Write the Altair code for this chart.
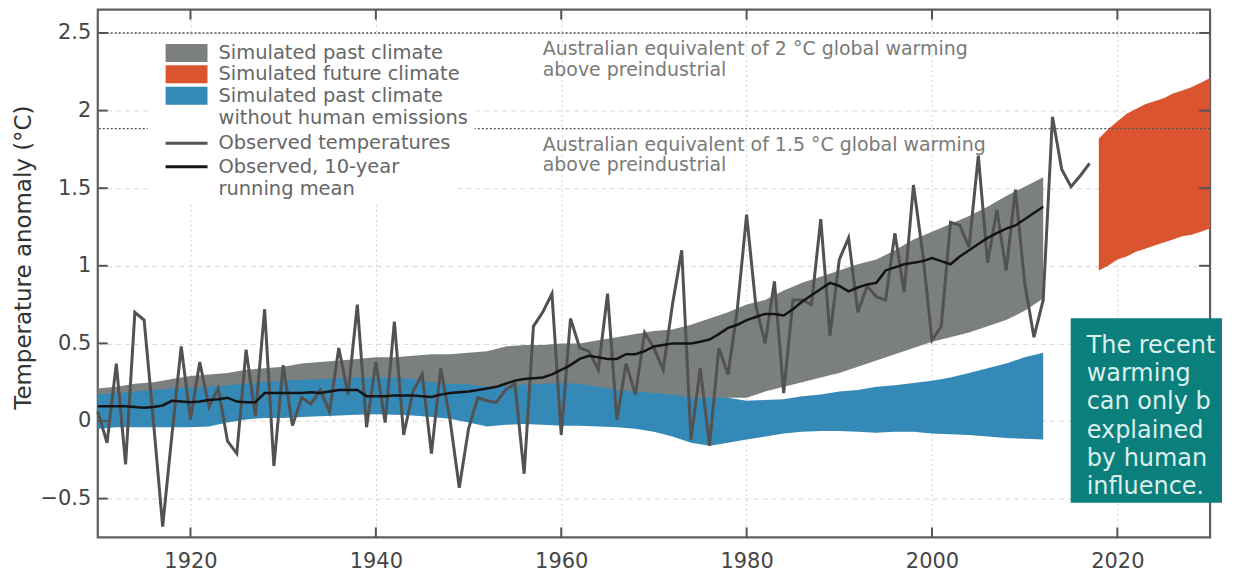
import altair as alt
import pandas as pd

FONT = "DejaVu Sans"

# ---------------- data ----------------
obs_years = list(range(1910, 2018))
obs_vals = [0.06, -0.14, 0.37, -0.28, 0.70, 0.65, 0.00, -0.68, -0.09, 0.48,
            0.01, 0.38, 0.09, 0.21, -0.13, -0.21, 0.46, 0.03, 0.72, -0.29,
            0.36, -0.03, 0.15, 0.11, 0.20, 0.06, 0.47, 0.17, 0.75, -0.04,
            0.38, -0.01, 0.64, -0.09, 0.19, 0.30, -0.21, 0.34, 0.01, -0.43,
            -0.05, 0.15, 0.13, 0.12, 0.20, 0.24, -0.34, 0.61, 0.70, 0.82,
            -0.09, 0.66, 0.47, 0.45, 0.33, 0.82, 0.01, 0.37, 0.17, 0.57,
            0.47, 0.33, 0.75, 1.10, -0.12, 0.34, -0.16, 0.47, 0.30, 0.72,
            1.33, 0.74, 0.50, 0.90, 0.18, 0.78, 0.78, 0.75, 1.30, 0.55,
            1.04, 1.18, 0.70, 0.87, 0.80, 0.78, 1.21, 0.83, 1.52, 1.08,
            0.52, 0.61, 1.28, 1.26, 1.12, 1.71, 1.02, 1.36, 0.97, 1.49,
            0.89, 0.54, 0.78, 1.96, 1.62, 1.51, 1.58, 1.66]

mean_years = list(range(1910, 2013))
mean_vals = [0.095, 0.095, 0.095, 0.095, 0.09, 0.085, 0.09, 0.10, 0.13, 0.125,
             0.12, 0.125, 0.135, 0.14, 0.15, 0.125, 0.12, 0.12, 0.18, 0.18,
             0.18, 0.18, 0.18, 0.185, 0.18, 0.19, 0.20, 0.20, 0.20, 0.16,
             0.16, 0.16, 0.165, 0.165, 0.165, 0.16, 0.155, 0.17, 0.18, 0.185,
             0.19, 0.20, 0.21, 0.22, 0.24, 0.26, 0.27, 0.275, 0.28, 0.30,
             0.33, 0.36, 0.40, 0.42, 0.41, 0.40, 0.40, 0.43, 0.43, 0.45,
             0.48, 0.49, 0.50, 0.50, 0.50, 0.51, 0.525, 0.56, 0.60, 0.62,
             0.65, 0.67, 0.69, 0.69, 0.68, 0.72, 0.77, 0.81, 0.85, 0.89,
             0.87, 0.835, 0.86, 0.88, 0.89, 0.97, 0.99, 1.01, 1.02, 1.03,
             1.05, 1.03, 1.01, 1.06, 1.10, 1.14, 1.18, 1.21, 1.24, 1.26,
             1.30, 1.34, 1.38]

band_years = list(range(1910, 2013, 2))
gray_hi = [0.21, 0.22, 0.24, 0.25, 0.27, 0.29, 0.30, 0.31, 0.33, 0.34,
           0.35, 0.37, 0.38, 0.39, 0.40, 0.41, 0.41, 0.42, 0.43, 0.43,
           0.44, 0.45, 0.48, 0.49, 0.49, 0.50, 0.50, 0.52, 0.54, 0.56,
           0.58, 0.59, 0.62, 0.66, 0.70, 0.75, 0.78, 0.84, 0.89, 0.93,
           0.97, 1.01, 1.04, 1.10, 1.17, 1.22, 1.27, 1.32, 1.38, 1.45,
           1.51, 1.57]
gray_lo = [0.05, 0.06, 0.07, 0.08, 0.09, 0.10, 0.10, 0.11, 0.12, 0.13,
           0.13, 0.14, 0.15, 0.15, 0.16, 0.16, 0.16, 0.15, 0.14, 0.13,
           0.12, 0.12, 0.12, 0.13, 0.13, 0.13, 0.13, 0.12, 0.12, 0.12,
           0.12, 0.13, 0.14, 0.14, 0.15, 0.15, 0.19, 0.22, 0.25, 0.28,
           0.31, 0.35, 0.39, 0.43, 0.47, 0.51, 0.54, 0.57, 0.61, 0.65,
           0.71, 0.79]
blue_hi = [0.17, 0.18, 0.19, 0.20, 0.21, 0.215, 0.22, 0.23, 0.24, 0.25,
           0.26, 0.265, 0.27, 0.275, 0.28, 0.28, 0.28, 0.27, 0.25, 0.24,
           0.235, 0.22, 0.225, 0.235, 0.24, 0.245, 0.24, 0.22, 0.20, 0.19,
           0.18, 0.17, 0.15, 0.15, 0.15, 0.13, 0.135, 0.14, 0.16, 0.17,
           0.19, 0.20, 0.22, 0.23, 0.245, 0.26, 0.28, 0.31, 0.34, 0.37,
           0.41, 0.44]
blue_lo = [-0.05, -0.04, -0.04, -0.04, -0.04, -0.04, -0.035, -0.01, 0.01, 0.02,
           0.02, 0.025, 0.03, 0.035, 0.04, 0.043, 0.04, 0.035, 0.025, 0.015,
           -0.01, -0.035, -0.025, -0.02, -0.025, -0.03, -0.03, -0.035, -0.04, -0.05,
           -0.07, -0.10, -0.14, -0.16, -0.14, -0.12, -0.10, -0.08, -0.07, -0.065,
           -0.065, -0.07, -0.075, -0.07, -0.07, -0.08, -0.085, -0.09, -0.10, -0.11,
           -0.115, -0.12]

fut_years = list(range(2018, 2031))
fut_hi = [1.82, 1.88, 1.93, 1.98, 2.01, 2.04, 2.06, 2.08, 2.11, 2.13, 2.15, 2.18, 2.21]
fut_lo = [0.97, 1.00, 1.04, 1.06, 1.09, 1.11, 1.13, 1.15, 1.17, 1.19, 1.20, 1.22, 1.24]

band_names = ["Simulated past climate", "Simulated future climate",
              "Simulated past climate|without human emissions"]
band_colors = ["#7b807f", "#d9542f", "#3489b6"]
line_names = ["Observed temperatures", "Observed, 10-year|running mean"]
line_colors = ["#525252", "#141414"]

threshold_vals = [2.5, 1.884]
threshold_texts = ["Australian equivalent of 2 °C global warming\nabove preindustrial",
                   "Australian equivalent of 1.5 °C global warming\nabove preindustrial"]
threshold_text_year = [1958, 1958]

x_tick_years = [1920, 1940, 1960, 1980, 2000, 2020]
y_tick_vals = [-0.5, 0, 0.5, 1, 1.5, 2, 2.5]

box_x = [2014.97, 2031.29]
box_y = [0.662, -0.527]
box_text_pos = [2016.69, 0.559]
box_text = "The recent\nwarming\ncan only be\nexplained\nby human\ninfluence."

# ---------------- chart ----------------
W, H = 1115, 529
xs = alt.Scale(domain=[1910, 2030], nice=False, zero=False)
ys = alt.Scale(domain=[-0.75, 2.65], nice=False, zero=False)

gray_df = pd.DataFrame({"year": band_years, "lo": gray_lo, "hi": gray_hi, "band": band_names[0]})
blue_df = pd.DataFrame({"year": band_years, "lo": blue_lo, "hi": blue_hi, "band": band_names[2]})
fut_df = pd.DataFrame({"year": fut_years, "lo": fut_lo, "hi": fut_hi, "band": band_names[1]})
obs_df = pd.DataFrame({"year": obs_years, "v": obs_vals, "series": line_names[0]})
mean_df = pd.DataFrame({"year": mean_years, "v": mean_vals, "series": line_names[1]})
thr_df = pd.DataFrame({"v": threshold_vals, "t": threshold_texts, "year": threshold_text_year})
xt_df = pd.DataFrame({"year": x_tick_years})
yt_df = pd.DataFrame({"v": y_tick_vals})

fill_enc = alt.Fill(
    "band:N",
    scale=alt.Scale(domain=band_names, range=band_colors),
    legend=alt.Legend(
        title=None, orient="none", legendX=50, legendY=26.8, direction="vertical",
        symbolType="M-2,-0.86H2V0.86H-2Z", symbolSize=441, symbolOffset=22.5,
        symbolStrokeWidth=0, symbolOpacity=1,
        labelOffset=21.5, labelFont=FONT, labelFontSize=19.5, labelColor="#666666",
        labelLimit=500, labelExpr="split(datum.label, '|')", labelBaseline="middle",
        rowPadding=1.5, padding=6, fillColor="white",
    ),
)
stroke_enc = alt.Stroke(
    "series:N",
    scale=alt.Scale(domain=line_names, range=line_colors),
    legend=alt.Legend(
        title=None, orient="none", legendX=50, legendY=119, direction="vertical",
        symbolType="M-2,0H2", symbolSize=441, symbolOffset=24,
        symbolStrokeWidth=3, symbolOpacity=1,
        labelOffset=20, labelFont=FONT, labelFontSize=19.5, labelColor="#666666",
        labelLimit=500, labelExpr="split(datum.label, '|')", labelBaseline="middle",
        rowPadding=1.5, padding=3, fillColor="white",
    ),
)

x_axis = alt.Axis(values=x_tick_years, format="d", ticks=False, tickSize=0, domain=False,
                  grid=True, gridColor="#cfcfcf", gridDash=[2, 3], gridWidth=1,
                  labelFont=FONT, labelFontSize=21, labelColor="#454545", labelPadding=13,
                  title=None)
y_axis = alt.Axis(values=y_tick_vals, format="~g", ticks=False, tickSize=0, domain=False,
                  grid=True, gridColor="#d8d8d8", gridDash=[5, 4], gridWidth=1,
                  labelFont=FONT, labelFontSize=21, labelColor="#454545", labelPadding=7,
                  title="Temperature anomaly (°C)", titleFont=FONT, titleFontSize=23,
                  titleColor="#333333", titleFontWeight="normal", titleAngle=270,
                  titleAlign="center", titleBaseline="middle", titleX=-74, titleY=248)

base_x = alt.X("year:Q", scale=xs, axis=x_axis)

gray = alt.Chart(gray_df).mark_area(opacity=1).encode(
    x=base_x, y=alt.Y("lo:Q", scale=ys, axis=y_axis), y2="hi:Q", fill=fill_enc)
blue = alt.Chart(blue_df).mark_area(opacity=1).encode(
    x="year:Q", y="lo:Q", y2="hi:Q", fill=fill_enc)
fut = alt.Chart(fut_df).mark_area(opacity=1).encode(
    x="year:Q", y="lo:Q", y2="hi:Q", fill=fill_enc)

thr_rules = alt.Chart(thr_df).mark_rule(color="#555555", strokeWidth=1.4, strokeDash=[2, 2]).encode(
    y="v:Q")
thr_text = alt.Chart(thr_df).mark_text(
    align="left", baseline="top", dy=7, lineBreak="\n", lineHeight=21,
    font=FONT, fontSize=19, color="#7a7a7a").encode(x="year:Q", y="v:Q", text="t:N")

obs = alt.Chart(obs_df).mark_line(strokeWidth=3).encode(
    x="year:Q", y="v:Q", stroke=stroke_enc)
mean = alt.Chart(mean_df).mark_line(strokeWidth=2.5).encode(
    x="year:Q", y="v:Q", stroke=stroke_enc)

tick_col = "#555555"
t_bottom = alt.Chart(xt_df).mark_rule(color=tick_col, strokeWidth=2).encode(
    x="year:Q", y=alt.value(H), y2=alt.value(H - 10))
t_top = alt.Chart(xt_df).mark_rule(color=tick_col, strokeWidth=2).encode(
    x="year:Q", y=alt.value(0), y2=alt.value(10))
t_left = alt.Chart(yt_df).mark_rule(color=tick_col, strokeWidth=2).encode(
    y="v:Q", x=alt.value(0), x2=alt.value(10))
t_right = alt.Chart(yt_df).mark_rule(color=tick_col, strokeWidth=2).encode(
    y="v:Q", x=alt.value(W), x2=alt.value(W - 11))

box = alt.Chart(pd.DataFrame({"x": [box_x[0]], "x2": [box_x[1]], "y": [box_y[0]], "y2": [box_y[1]]})
                ).mark_rect(color="#0b7f7c", clip=False).encode(
    x="x:Q", x2="x2:Q", y="y:Q", y2="y2:Q")
box_txt = alt.Chart(pd.DataFrame({"x": [box_text_pos[0]], "y": [box_text_pos[1]], "t": [box_text]})
                    ).mark_text(align="left", baseline="top", lineBreak="\n", lineHeight=28.2,
                                font=FONT, fontSize=24, color="#dcefed", limit=136,
                                ellipsis="\u200b", clip=False).encode(
    x="x:Q", y="y:Q", text="t:N")

chart = alt.layer(
    gray, blue, fut, thr_rules, thr_text, obs, mean,
    t_bottom, t_top, t_left, t_right, box, box_txt,
).properties(
    width=W, height=H,
    autosize=alt.AutoSizeParams(type="none"),
    padding={"left": 90, "top": 1, "right": 20, "bottom": 36},
).configure(
    font=FONT, background="white",
    style={"guide-label": {"lineHeight": 22.5}},
).configure_view(
    stroke="#5f5f5f", strokeWidth=2.2
)

chart.save("out.html", embed_options={"renderer": "svg", "actions": False})
